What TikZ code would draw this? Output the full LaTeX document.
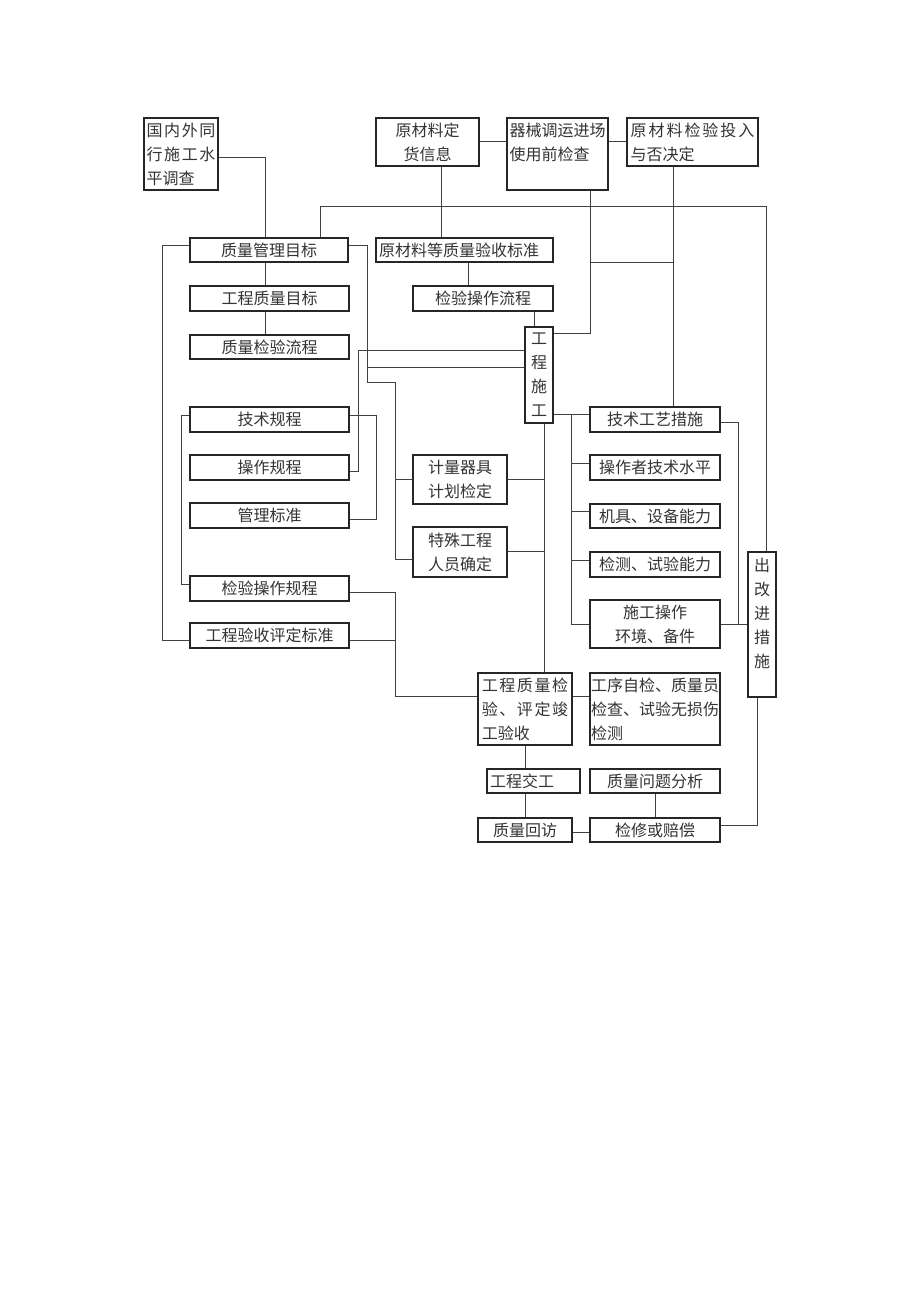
\documentclass[tikz,border=0pt]{standalone}
\usepackage{fontspec}
\setmainfont{Noto Sans CJK SC}
\newcommand{\wideline}[2]{{\addfontfeature{LetterSpace=#1}#2}}
\begin{document}
\begin{tikzpicture}[x=1pt,y=-1pt,
  every node/.style={font=\fontsize{16}{24}\selectfont, text=black!80},
  bx/.style={draw=black!85, line width=1.3pt, inner sep=0pt, align=center},
  ln/.style={draw=black!75, line width=0.8pt}]
\useasboundingbox (0,0) rectangle (920,1301);

% ---------- nodes ----------
\node[bx, align=left, minimum width=74, minimum height=72] (gn) at (181,154) {\wideline{10}{国内外同}\\\wideline{10}{行施工水}\\平调查};
\node[bx, minimum width=103, minimum height=48] (ycl) at (427.5,142) {原材料定\\货信息};
\node[bx, align=left, minimum width=101, minimum height=72] (qx) at (557.5,154) {器械调运进场\\使用前检查\\~};
\node[bx, align=left, minimum width=131, minimum height=48] (yjy) at (692.5,142) {\wideline{12}{原材料检验投入}\\与否决定};

\node[bx, minimum width=158, minimum height=24] (zlgl) at (269,250) {质量管理目标};
\node[bx, align=left, text width=171pt, inner xsep=3pt, minimum height=24] (ydj) at (464.5,250) {原材料等质量验收标准};
\node[bx, minimum width=159, minimum height=25] (gczl) at (269.5,298.5) {工程质量目标};
\node[bx, minimum width=140, minimum height=25] (jylc) at (483,298.5) {检验操作流程};
\node[bx, minimum width=159, minimum height=24] (zljy) at (269.5,347) {质量检验流程};
\node[bx, minimum width=28, minimum height=96] (gcsg) at (539,375) {工\\程\\施\\工};

\node[bx, minimum width=159, minimum height=25] (jsgc) at (269.5,419.5) {技术规程};
\node[bx, minimum width=159, minimum height=25] (czgc) at (269.5,467.5) {操作规程};
\node[bx, minimum width=159, minimum height=25] (glbz) at (269.5,515.5) {管理标准};
\node[bx, minimum width=159, minimum height=25] (jyczgc) at (269.5,588.5) {检验操作规程};
\node[bx, minimum width=159, minimum height=25] (gcys) at (269.5,635.5) {工程验收评定标准};

\node[bx, minimum width=94, minimum height=49] (jlqj) at (460,479.5) {计量器具\\计划检定};
\node[bx, minimum width=94, minimum height=50] (tsgc) at (460,552) {特殊工程\\人员确定};

\node[bx, minimum width=130, minimum height=25] (jsgy) at (655,419.5) {技术工艺措施};
\node[bx, minimum width=130, minimum height=25] (czz) at (655,467.5) {操作者技术水平};
\node[bx, minimum width=130, minimum height=24] (jj) at (655,516) {机具、设备能力};
\node[bx, minimum width=130, minimum height=25] (jc) at (655,564.5) {检测、试验能力};
\node[bx, minimum width=130, minimum height=48] (sgcz) at (655,624) {施工操作\\环境、备件};
\node[bx, minimum width=28, minimum height=145] (cgj) at (762,624.5) {出\\改\\进\\措\\施\\~};

\node[bx, align=left, minimum width=94, minimum height=72] (gczljy) at (525,709) {\wideline{10}{工程质量检}\\\wideline{10}{验、评定竣}\\工验收};
\node[bx, align=left, minimum width=130, minimum height=72] (gxzj) at (655,709) {工序自检、质量员\\检查、试验无损伤\\检测};
\node[bx, align=left, text width=87pt, inner xsep=3pt, minimum height=24] (gcjg) at (533.5,781) {工程交工};
\node[bx, minimum width=130, minimum height=24] (zlwt) at (655,781) {质量问题分析};
\node[bx, minimum width=94, minimum height=24] (zlhf) at (525,830) {质量回访};
\node[bx, minimum width=130, minimum height=24] (jxpc) at (655,830) {检修或赔偿};

% ---------- guide coordinates ----------
\coordinate (x162) at (162,0);   \coordinate (x181) at (181.7,0);
\coordinate (x265) at (265,0);   \coordinate (x321) at (320.7,0);
\coordinate (x358) at (358.3,0); \coordinate (x367) at (367,0);
\coordinate (x377) at (376.7,0); \coordinate (x396) at (395.7,0);
\coordinate (x442) at (441.7,0); \coordinate (x468) at (468,0);
\coordinate (x525) at (525,0);   \coordinate (x534) at (534.3,0);
\coordinate (x544) at (544.3,0); \coordinate (x572) at (571.7,0);
\coordinate (x590) at (590,0);   \coordinate (x673) at (673.3,0);
\coordinate (x738) at (738.3,0); \coordinate (x758) at (757.7,0);
\coordinate (x767) at (766.7,0);
\coordinate (y142) at (0,141.7); \coordinate (y157) at (0,157);
\coordinate (y206) at (0,206);   \coordinate (y246) at (0,245.7);
\coordinate (y262) at (0,262.3); \coordinate (y333) at (0,333);
\coordinate (y351) at (0,350.7); \coordinate (y367) at (0,367.3);
\coordinate (y383) at (0,382.7); \coordinate (y414) at (0,414.3);
\coordinate (y415) at (0,415);   \coordinate (y423) at (0,422.7);
\coordinate (y463) at (0,463.3); \coordinate (y472) at (0,471.7);
\coordinate (y479) at (0,479.3); \coordinate (y512) at (0,511.7);
\coordinate (y519) at (0,519.3); \coordinate (y552) at (0,551.7);
\coordinate (y559) at (0,559.3); \coordinate (y560) at (0,560);
\coordinate (y584) at (0,584);   \coordinate (y592) at (0,592.3);
\coordinate (y624) at (0,624.3); \coordinate (y640) at (0,640);
\coordinate (y697) at (0,696.7); \coordinate (y825) at (0,825);
\coordinate (y833) at (0,832.7);

% ---------- connectors ----------
\draw[ln] (gn.east |- y157) -| (x265 |- zlgl.north);
\draw[ln] (x265 |- zlgl.south) -- (x265 |- gczl.north);
\draw[ln] (x265 |- gczl.south) -- (x265 |- zljy.north);
\draw[ln] (x321 |- zlgl.north) |- (x767 |- y206) -- (x767 |- cgj.north);
\draw[ln] (x442 |- ycl.south) -- (x442 |- ydj.north);
\draw[ln] (ycl.east |- y142) -- (qx.west |- y142);
\draw[ln] (qx.east |- y142) -- (yjy.west |- y142);
\draw[ln] (x468 |- ydj.south) -- (x468 |- jylc.north);
\draw[ln] (x534 |- jylc.south) -- (x534 |- gcsg.north);
\draw[ln] (x590 |- qx.south) |- (gcsg.east |- y333);
\draw[ln] (x590 |- y262) -- (x673 |- y262);
\draw[ln] (x673 |- yjy.south) -- (x673 |- jsgy.north);
\draw[ln] (zlgl.west |- y246) -| (x162 |- y640) -- (gcys.west |- y640);
\draw[ln] (zlgl.east |- y246) -| (x367 |- y383) -| (x396 |- y559) -- (tsgc.west |- y559);
\draw[ln] (jlqj.west |- y479) -- (x396 |- y479);
\draw[ln] (gcsg.west |- y367) -- (x367 |- y367);
\draw[ln] (gcsg.west |- y351) -| (x358 |- y472) -- (czgc.east |- y472);
\draw[ln] (jsgc.east |- y415) -| (x377 |- y519) -- (glbz.east |- y519);
\draw[ln] (jsgc.west |- y415) -| (x181 |- y584) -- (jyczgc.west |- y584);
\draw[ln] (jyczgc.east |- y592) -| (x396 |- y697) -- (gczljy.west |- y697);
\draw[ln] (gcys.east |- y640) -- (x396 |- y640);
\draw[ln] (x544 |- gcsg.south) -- (x544 |- gczljy.north);
\draw[ln] (jlqj.east |- y479) -- (x544 |- y479);
\draw[ln] (tsgc.east |- y552) -- (x544 |- y552);
\draw[ln] (gcsg.east |- y414) -- (jsgy.west |- y414);
\draw[ln] (x572 |- y414) |- (sgcz.west |- y624);
\draw[ln] (x572 |- y463) -- (czz.west |- y463);
\draw[ln] (x572 |- y512) -- (jj.west |- y512);
\draw[ln] (x572 |- y560) -- (jc.west |- y560);
\draw[ln] (jsgy.east |- y423) -| (x738 |- y624);
\draw[ln] (sgcz.east |- y624) -- (cgj.west |- y624);
\draw[ln] (gczljy.east |- y697) -- (gxzj.west |- y697);
\draw[ln] (x525 |- gczljy.south) -- (x525 |- gcjg.north);
\draw[ln] (x525 |- gcjg.south) -- (x525 |- zlhf.north);
\draw[ln] (zlwt.south) -- (jxpc.north);
\draw[ln] (zlhf.east |- y833) -- (jxpc.west |- y833);
\draw[ln] (jxpc.east |- y825) -| (x758 |- cgj.south);
\end{tikzpicture}
\end{document}
